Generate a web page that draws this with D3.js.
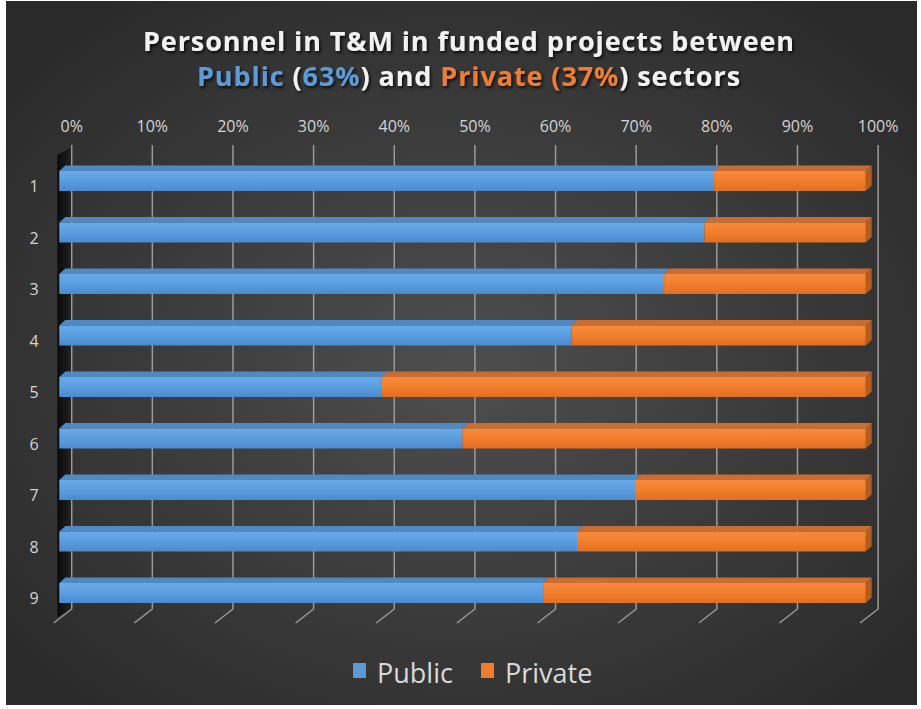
<!DOCTYPE html>
<html>
<head>
<meta charset="utf-8">
<script src="https://cdn.jsdelivr.net/npm/d3@7"></script>
<style>
  body { margin: 0; background: #ffffff; }
  text { font-family: "Open Sans", "DejaVu Sans", sans-serif; }
</style>
</head>
<body>
<div id="chart"></div>
<script>
// data (share of personnel, %)
const categories = ['1', '2', '3', '4', '5', '6', '7', '8', '9'];
const publicShare = [81.2, 80, 75, 63.5, 40, 50, 71.4, 64.2, 60];
const privateShare = publicShare.map(v => 100 - v);
const seriesNames = ['Public', 'Private'];
const tickValues = [0, 10, 20, 30, 40, 50, 60, 70, 80, 90, 100];

const width = 921;
const height = 709;

// front face of the bars, back wall sits a bit further right/up
const depthWall = 12.4;
const barDx = 6, barDy = -5.5;
const barH = 20;

const svg = d3.select('#chart')
  .append('svg')
  .attr('width', width)
  .attr('height', height);

const defs = svg.append('defs');

const bg = defs.append('radialGradient')
  .attr('id', 'bg')
  .attr('cx', '50%').attr('cy', '52%').attr('r', '65%');
bg.append('stop').attr('offset', '0%').attr('stop-color', '#4e4e4e');
bg.append('stop').attr('offset', '100%').attr('stop-color', '#2a2a2a');

function vGrad(id, top, mid, bottom) {
  const g = defs.append('linearGradient')
    .attr('id', id).attr('x1', 0).attr('y1', 0).attr('x2', 0).attr('y2', 1);
  g.append('stop').attr('offset', '0%').attr('stop-color', top);
  g.append('stop').attr('offset', '45%').attr('stop-color', mid);
  g.append('stop').attr('offset', '100%').attr('stop-color', bottom);
}
vGrad('blueFront', '#69aae8', '#5c9fe0', '#4a8bcf');
vGrad('orangeFront', '#f68a3c', '#f38030', '#e26f20');

const wallGrad = defs.append('linearGradient')
  .attr('id', 'wall').attr('x1', 0).attr('y1', 0).attr('x2', 1).attr('y2', 0);
wallGrad.append('stop').attr('offset', '0%').attr('stop-color', '#0a0a0a');
wallGrad.append('stop').attr('offset', '100%').attr('stop-color', '#222222');

const shadow = defs.append('filter').attr('id', 'shadow')
  .attr('x', '-10%').attr('y', '-20%').attr('width', '120%').attr('height', '160%');
shadow.append('feDropShadow')
  .attr('dx', 1.5).attr('dy', 2).attr('stdDeviation', 1.5)
  .attr('flood-color', '#000').attr('flood-opacity', 0.8);

// background panel
svg.append('rect')
  .attr('x', 6).attr('y', 1)
  .attr('width', 911).attr('height', 704)
  .attr('fill', 'url(#bg)');

// scales
const x = d3.scaleLinear().domain([0, 100]).range([59.3, 865.7]);
const y = d3.scalePoint().domain(categories).range([181, 593]);

const gridTop = 145, gridBottom = 609;

// left wall
svg.append('polygon')
  .attr('points', [
    [x(0) - 2, gridTop + 10], [x(0) + depthWall, gridTop + 2],
    [x(0) + depthWall, gridBottom], [x(0) - 2, gridBottom + 8]
  ].map(p => p.join(',')).join(' '))
  .attr('fill', 'url(#wall)');

// gridlines on back wall + floor diagonals
const grid = svg.append('g');
tickValues.forEach(function (t) {
  const gx = x(t) + depthWall;
  grid.append('polyline')
    .attr('points', `${gx},${gridTop} ${gx},${gridBottom} ${gx - 18},${gridBottom + 14}`)
    .attr('fill', 'none')
    .attr('stroke', '#9a9a9a')
    .attr('stroke-width', 1.5);
});

// top axis labels
svg.append('g')
  .selectAll('text')
  .data(tickValues)
  .join('text')
  .attr('x', d => x(d) + depthWall)
  .attr('y', 132)
  .attr('text-anchor', 'middle')
  .attr('font-size', 16)
  .attr('fill', '#d4d4d4')
  .text(d => d + '%');

// category labels
svg.append('g')
  .selectAll('text')
  .data(categories)
  .join('text')
  .attr('x', 34)
  .attr('y', d => y(d) + 11)
  .attr('text-anchor', 'middle')
  .attr('font-size', 16)
  .attr('fill', '#d4d4d4')
  .text(d => d);

// stacked 3d bars
const rows = categories.map((c, i) => ({ cat: c, pub: publicShare[i], pri: privateShare[i] }));
const stack = d3.stack().keys(['pub', 'pri'])(rows);
const faceColors = {
  pub: { front: 'url(#blueFront)', top: '#5088bf', side: '#3f74a8' },
  pri: { front: 'url(#orangeFront)', top: '#c96d35', side: '#b85c1c' }
};

const bars = svg.append('g');
stack.forEach(function (layer) {
  const col = faceColors[layer.key];
  layer.forEach(function (d) {
    const x0 = x(d[0]), x1 = x(d[1]);
    const yt = y(d.data.cat) - barH / 2;
    const g = bars.append('g');
    // top face
    g.append('polygon')
      .attr('points', [[x0, yt], [x0 + barDx, yt + barDy], [x1 + barDx, yt + barDy], [x1, yt]]
        .map(p => p.join(',')).join(' '))
      .attr('fill', col.top);
    // right side face
    if (layer.key === 'pri') {
      g.append('polygon')
        .attr('points', [[x1, yt], [x1 + barDx, yt + barDy], [x1 + barDx, yt + barDy + barH], [x1, yt + barH]]
          .map(p => p.join(',')).join(' '))
        .attr('fill', col.side);
    }
    // front face
    g.append('rect')
      .attr('x', x0).attr('y', yt)
      .attr('width', x1 - x0).attr('height', barH)
      .attr('fill', col.front);
  });
});

// title
function fitLine(sel, target) {
  const w = sel.node().getComputedTextLength();
  const n = sel.text().length;
  sel.attr('letter-spacing', (target - w) / n);
}

const t1 = svg.append('text')
  .attr('x', 469).attr('y', 51)
  .attr('text-anchor', 'middle')
  .attr('font-size', 27).attr('font-weight', 700)
  .attr('fill', '#f2f2f2')
  .attr('filter', 'url(#shadow)')
  .text('Personnel in T&M in funded projects between');
fitLine(t1, 652);

const t2 = svg.append('text')
  .attr('x', 469).attr('y', 86)
  .attr('text-anchor', 'middle')
  .attr('font-size', 27).attr('font-weight', 700)
  .attr('fill', '#f2f2f2')
  .attr('filter', 'url(#shadow)');
const pubColor = '#5b9bd5', priColor = '#ed7d31';
[['Public ', pubColor], ['(', '#f2f2f2'], ['63%', pubColor], [') and ', '#f2f2f2'],
 ['Private (37%', priColor], [') sectors', '#f2f2f2']].forEach(function (p) {
  t2.append('tspan').attr('fill', p[1]).text(p[0]);
});
fitLine(t2, 544);

// legend
const legend = svg.append('g');
const legendItems = [
  { name: seriesNames[0], color: '#5b9bd5', x: 353 },
  { name: seriesNames[1], color: '#ed7d31', x: 481 }
];
legendItems.forEach(function (it) {
  legend.append('rect')
    .attr('x', it.x).attr('y', 663)
    .attr('width', 13).attr('height', 15)
    .attr('fill', it.color);
  legend.append('text')
    .attr('x', it.x + 24).attr('y', 683)
    .attr('font-size', 27)
    .attr('fill', '#d9d9d9')
    .text(it.name);
});
</script>
</body>
</html>
